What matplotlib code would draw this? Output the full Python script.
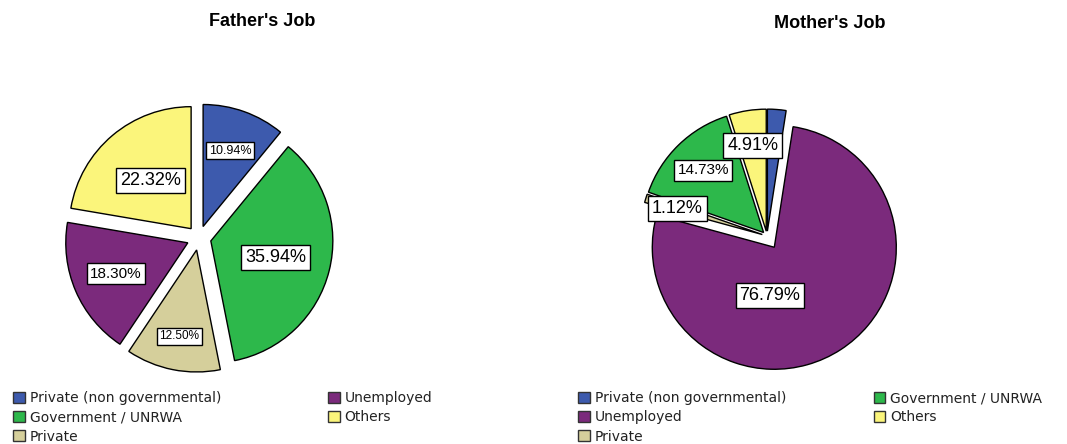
import numpy as np
import matplotlib.pyplot as plt
from matplotlib.patches import Patch

plt.rcParams['font.family'] = ['Liberation Sans', 'DejaVu Sans']

W, H = 1067, 444
fig = plt.figure(figsize=(W / 100, H / 100), dpi=100)

# job categories and shares (%)
father_jobs = ['Private (non governmental)', 'Government / UNRWA', 'Private', 'Unemployed', 'Others']
father_pct = [10.94, 35.94, 12.50, 18.30, 22.32]

mother_jobs = ['Private (non governmental)', 'Unemployed', 'Private', 'Government / UNRWA', 'Others']
mother_pct = [2.46, 76.79, 1.12, 14.73, 4.91]
mother_labelled = [False, True, True, True, True]

job_colors = {
    'Private (non governmental)': '#3d5aad',
    'Government / UNRWA': '#2db84b',
    'Private': '#d5cf9b',
    'Unemployed': '#7b2a7c',
    'Others': '#fbf57b',
}

R_PX = 122  # pie radius in pixels
HALF_PX = 165


def pie_axes(cx, cy):
    ax = fig.add_axes([(cx - HALF_PX) / W, (H - cy - HALF_PX) / H, 2 * HALF_PX / W, 2 * HALF_PX / H])
    ax.set_aspect('equal')
    ax.axis('off')
    return ax


def draw_pie(ax, jobs, pct, explode, shown, dists, sizes, shifts):
    wedges, _ = ax.pie(pct, colors=[job_colors[j] for j in jobs], explode=explode,
                       startangle=90, counterclock=False, radius=1,
                       wedgeprops=dict(edgecolor='black', linewidth=1.0))
    lim = HALF_PX / R_PX
    ax.set_xlim(-lim, lim)
    ax.set_ylim(-lim, lim)
    for w, p, s, d, fs, sh in zip(wedges, pct, shown, dists, sizes, shifts):
        if not s:
            continue
        ang = np.deg2rad((w.theta1 + w.theta2) / 2 + sh)
        x = w.center[0] + d * np.cos(ang)
        y = w.center[1] + d * np.sin(ang)
        ax.text(x, y, f'{p:.2f}%', ha='center', va='center', fontsize=fs,
                bbox=dict(boxstyle='square,pad=0.22', fc='white', ec='black', lw=1))


ax1 = pie_axes(199, 238)
draw_pie(ax1, father_jobs, father_pct, [0.1] * 5, [True] * 5,
         dists=[0.66, 0.55, 0.72, 0.64, 0.52], sizes=[9, 13, 8.5, 11, 13], shifts=[0] * 5)

ax2 = pie_axes(767, 236)
draw_pie(ax2, mother_jobs, mother_pct, [0.04, 0.11, 0.04, 0.04, 0.04], mother_labelled,
         dists=[0.7, 0.4, 0.73, 0.71, 0.71], sizes=[9, 13, 13, 11, 13], shifts=[0, -38, 0, 0, 0])

fig.text(262 / W, 1 - 22 / H, "Father's Job", ha='center', va='center', fontsize=13, fontweight='bold')
fig.text(830 / W, 1 - 24 / H, "Mother's Job", ha='center', va='center', fontsize=13, fontweight='bold')


def legend(jobs, x, colspace):
    handles = [Patch(facecolor=job_colors[j], edgecolor='#333333', linewidth=1) for j in jobs]
    fig.legend(handles, jobs, loc='upper left', bbox_to_anchor=(x / W, 1 - 391 / H), ncol=2,
               frameon=False, prop={'family': 'DejaVu Sans', 'size': 10},
               handlelength=0.85, handleheight=0.85, handletextpad=0.35,
               labelspacing=0.38, columnspacing=colspace, borderpad=0, borderaxespad=0,
               labelcolor='#222222')


legend(['Private (non governmental)', 'Government / UNRWA', 'Private', 'Unemployed', 'Others'], 13, 7.7)
legend(['Private (non governmental)', 'Unemployed', 'Private', 'Government / UNRWA', 'Others'], 578, 6.3)

fig.savefig('out.png', dpi=100)
